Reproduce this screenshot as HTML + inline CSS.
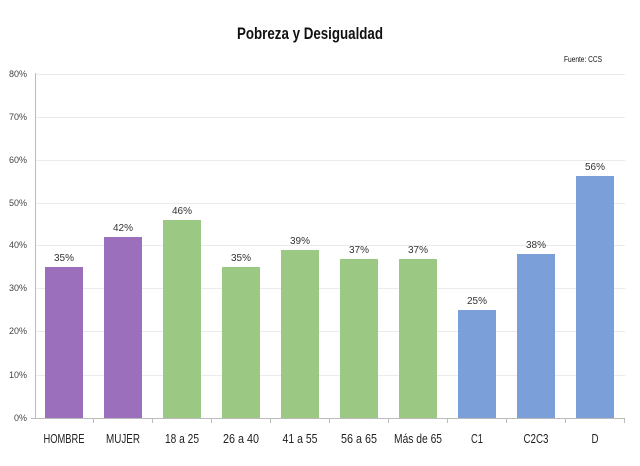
<!DOCTYPE html>
<html><head><meta charset="utf-8"><style>
body{margin:0;background:#fff;}
svg text{font-family:"Liberation Sans Narrow","Liberation Sans",sans-serif;}
</style></head><body>
<svg width="640" height="461" xmlns="http://www.w3.org/2000/svg">
<rect width="640" height="461" fill="#fff"/>
<text x="310" y="39" font-size="17" font-weight="bold" text-anchor="middle" fill="#111" textLength="146" lengthAdjust="spacingAndGlyphs">Pobreza y Desigualdad</text>
<text x="602" y="62" font-size="8" text-anchor="end" fill="#111" textLength="38" lengthAdjust="spacingAndGlyphs">Fuente: CCS</text>
<g stroke="#ebebeb" stroke-width="1">
<line x1="35" x2="625" y1="74.5" y2="74.5"/><line x1="35" x2="625" y1="117.5" y2="117.5"/>
<line x1="35" x2="625" y1="160.5" y2="160.5"/><line x1="35" x2="625" y1="203.5" y2="203.5"/>
<line x1="35" x2="625" y1="245.5" y2="245.5"/><line x1="35" x2="625" y1="288.5" y2="288.5"/>
<line x1="35" x2="625" y1="331.5" y2="331.5"/><line x1="35" x2="625" y1="375.5" y2="375.5"/>
</g>
<g font-size="9" fill="#444" text-anchor="end">
<text x="27" y="77">80%</text><text x="27" y="120">70%</text><text x="27" y="163">60%</text>
<text x="27" y="206">50%</text><text x="27" y="248">40%</text><text x="27" y="291">30%</text>
<text x="27" y="334">20%</text><text x="27" y="378">10%</text><text x="27" y="421">0%</text>
</g>
<g>
<rect x="45" y="267" width="38" height="151" fill="#9b6fbb"/>
<rect x="104" y="237" width="38" height="181" fill="#9b6fbb"/>
<rect x="163" y="220" width="38" height="198" fill="#9bc882"/>
<rect x="222" y="267" width="38" height="151" fill="#9bc882"/>
<rect x="281" y="250" width="38" height="168" fill="#9bc882"/>
<rect x="340" y="259" width="38" height="159" fill="#9bc882"/>
<rect x="399" y="259" width="38" height="159" fill="#9bc882"/>
<rect x="458" y="310" width="38" height="108" fill="#7b9fd8"/>
<rect x="517" y="254" width="38" height="164" fill="#7b9fd8"/>
<rect x="576" y="176" width="38" height="242" fill="#7b9fd8"/>
</g>
<g stroke="#bbb" stroke-width="1">
<line x1="35.5" x2="35.5" y1="73" y2="418"/>
<line x1="31" x2="625" y1="418.5" y2="418.5"/>
<line x1="93.5" x2="93.5" y1="418" y2="423"/><line x1="152.5" x2="152.5" y1="418" y2="423"/>
<line x1="211.5" x2="211.5" y1="418" y2="423"/><line x1="270.5" x2="270.5" y1="418" y2="423"/>
<line x1="329.5" x2="329.5" y1="418" y2="423"/><line x1="388.5" x2="388.5" y1="418" y2="423"/>
<line x1="447.5" x2="447.5" y1="418" y2="423"/><line x1="506.5" x2="506.5" y1="418" y2="423"/>
<line x1="565.5" x2="565.5" y1="418" y2="423"/><line x1="624.5" x2="624.5" y1="418" y2="423"/>
</g>
<g font-size="10" fill="#333" text-anchor="middle">
<text x="64" y="261">35%</text><text x="123" y="231">42%</text><text x="182" y="214">46%</text>
<text x="241" y="261">35%</text><text x="300" y="244">39%</text><text x="359" y="253">37%</text>
<text x="418" y="253">37%</text><text x="477" y="304">25%</text><text x="536" y="248">38%</text>
<text x="595" y="170">56%</text>
</g>
<g font-size="13" fill="#222" text-anchor="middle">
<text x="64" y="443" textLength="41" lengthAdjust="spacingAndGlyphs">HOMBRE</text>
<text x="123" y="443" textLength="34" lengthAdjust="spacingAndGlyphs">MUJER</text>
<text x="182" y="443" textLength="34" lengthAdjust="spacingAndGlyphs">18 a 25</text>
<text x="241" y="443" textLength="36" lengthAdjust="spacingAndGlyphs">26 a 40</text>
<text x="300" y="443" textLength="35" lengthAdjust="spacingAndGlyphs">41 a 55</text>
<text x="359" y="443" textLength="36" lengthAdjust="spacingAndGlyphs">56 a 65</text>
<text x="418" y="443" textLength="48" lengthAdjust="spacingAndGlyphs">Más de 65</text>
<text x="477" y="443" textLength="12" lengthAdjust="spacingAndGlyphs">C1</text>
<text x="536" y="443" textLength="25" lengthAdjust="spacingAndGlyphs">C2C3</text>
<text x="595" y="443" textLength="7" lengthAdjust="spacingAndGlyphs">D</text>
</g>
</svg>
</body></html>
